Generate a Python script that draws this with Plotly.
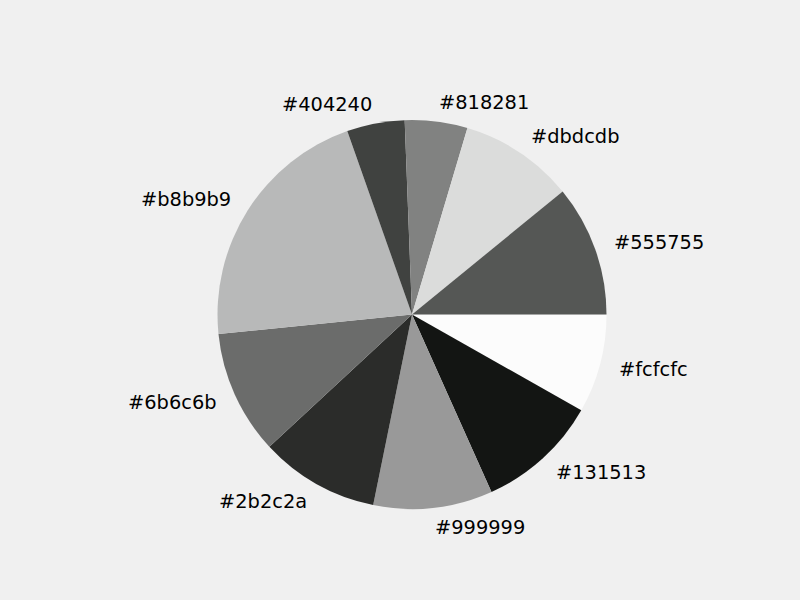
import math
import plotly.graph_objects as go

labels = ["#555755", "#dbdcdb", "#818281", "#404240", "#b8b9b9",
          "#6b6c6b", "#2b2c2a", "#999999", "#131513", "#fcfcfc"]
values = [10.9, 9.5, 5.2, 4.8, 21.2, 10.3, 9.9, 9.9, 10.1, 8.2]
colors = labels

cx, cy, r = 412, 314.5, 194.5
W, H = 800, 600
label_dist = 1.1
font = dict(family="DejaVu Sans", size=19.4, color="black")

# Plotly draws the first slice from the rotation angle clockwise; reverse so the
# visual order is counterclockwise from 3 o'clock, as in the reference.
fig = go.Figure(go.Pie(
    labels=labels[::-1],
    values=values[::-1],
    marker=dict(colors=colors[::-1], line=dict(width=0)),
    sort=False,
    direction="clockwise",
    rotation=90,
    textinfo="none",
    hoverinfo="label+value",
    showlegend=False,
    domain=dict(x=[(cx - r) / W, (cx + r) / W], y=[(H - cy - r) / H, (H - cy + r) / H]),
))

# Labels at 1.1 radius along each slice's mid-angle (counterclockwise from east)
total = sum(values)
start = 0.0
annotations = []
for lab, v in zip(labels, values):
    span = 360.0 * v / total
    mid = math.radians(start + span / 2)
    start += span
    px = cx + label_dist * r * math.cos(mid)
    py = cy - label_dist * r * math.sin(mid)
    c = math.cos(mid)
    xa = "left" if c > 1e-9 else ("right" if c < -1e-9 else "center")
    annotations.append(dict(
        x=px / W, y=1 - py / H, xref="paper", yref="paper",
        text=lab, showarrow=False, xanchor=xa, yanchor="middle", font=font,
        borderpad=0, borderwidth=0,
    ))

fig.update_layout(
    width=W, height=H,
    margin=dict(l=0, r=0, t=0, b=0),
    paper_bgcolor="#f0f0f0",
    plot_bgcolor="#f0f0f0",
    annotations=annotations,
)
fig.write_html("out.html")
